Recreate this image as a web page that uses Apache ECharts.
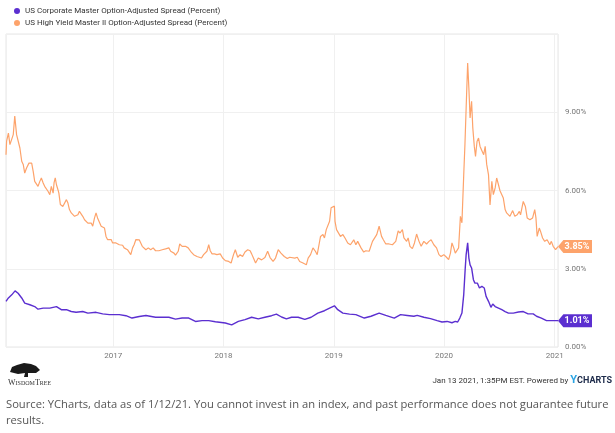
<!DOCTYPE html>
<html style="height: 100%">
<head>
    <meta charset="utf-8">
    <script src="https://cdn.jsdelivr.net/npm/echarts@6/dist/echarts.min.js"></script>
</head>
<body style="height: 100%; margin: 0; background: #fff">
    <div id="main" style="width: 615px; height: 433px"></div>
    <script type="text/javascript">
        var SMALL = "Roboto, sans-serif";

        // US Corporate Master OAS (purple)
        var corpDates = ['2016-01-12', '2016-01-20', '2016-01-31', '2016-02-11', '2016-02-21', '2016-03-04', '2016-03-14', '2016-03-31',
            '2016-04-16', '2016-04-27', '2016-05-14', '2016-06-05', '2016-06-27', '2016-07-13', '2016-07-30', '2016-08-15',
            '2016-08-31', '2016-09-22', '2016-10-09', '2016-11-05', '2016-11-27', '2016-12-19', '2017-01-21', '2017-02-12',
            '2017-03-04', '2017-03-28', '2017-04-19', '2017-05-21', '2017-07-04', '2017-07-26', '2017-08-17', '2017-09-08',
            '2017-09-30', '2017-10-22', '2017-11-13', '2017-12-05', '2018-01-07', '2018-01-28', '2018-02-19', '2018-03-13',
            '2018-04-04', '2018-04-26', '2018-05-18', '2018-06-09', '2018-06-25', '2018-07-12', '2018-07-28', '2018-08-14',
            '2018-09-05', '2018-09-27', '2018-10-18', '2018-11-09', '2018-12-01', '2018-12-18', '2019-01-03', '2019-01-14',
            '2019-01-31', '2019-02-22', '2019-03-15', '2019-04-12', '2019-05-04', '2019-05-31', '2019-06-22', '2019-07-20',
            '2019-08-10', '2019-09-01', '2019-09-23', '2019-10-04', '2019-10-26', '2019-11-17', '2019-12-09', '2019-12-25',
            '2020-01-11', '2020-01-27', '2020-02-07', '2020-02-15', '2020-02-22', '2020-02-29', '2020-03-06', '2020-03-11',
            '2020-03-14', '2020-03-19', '2020-03-23', '2020-03-27', '2020-04-01', '2020-04-07', '2020-04-12', '2020-04-20',
            '2020-04-27', '2020-05-05', '2020-05-13', '2020-05-19', '2020-05-27', '2020-06-04', '2020-06-10', '2020-06-18',
            '2020-06-29', '2020-07-10', '2020-07-21', '2020-08-01', '2020-08-17', '2020-09-03', '2020-09-19', '2020-10-05',
            '2020-10-22', '2020-11-02', '2020-11-18', '2020-12-05', '2020-12-21', '2021-01-12'];
        var corpValues = [1.75, 1.88, 2.00, 2.15, 2.06, 1.88, 1.68, 1.62,
            1.55, 1.45, 1.49, 1.49, 1.55, 1.43, 1.43, 1.36,
            1.33, 1.36, 1.30, 1.33, 1.27, 1.24, 1.24, 1.20,
            1.11, 1.17, 1.21, 1.14, 1.14, 1.07, 1.11, 1.11,
            0.98, 1.01, 1.01, 0.97, 0.92, 0.85, 0.98, 1.05,
            1.14, 1.08, 1.14, 1.20, 1.26, 1.15, 1.08, 1.14,
            1.14, 1.06, 1.14, 1.30, 1.39, 1.49, 1.58, 1.43,
            1.30, 1.26, 1.24, 1.11, 1.18, 1.30, 1.21, 1.11,
            1.24, 1.21, 1.18, 1.21, 1.14, 1.09, 1.01, 0.96,
            0.98, 0.93, 0.98, 0.96, 1.11, 1.30, 2.01, 3.03,
            3.54, 3.99, 3.41, 3.15, 3.03, 2.58, 2.45, 2.45,
            2.26, 2.33, 2.26, 1.94, 1.75, 1.52, 1.65, 1.55,
            1.49, 1.43, 1.36, 1.30, 1.30, 1.34, 1.36, 1.27,
            1.27, 1.18, 1.11, 1.01, 1.01, 1.01];

        // US High Yield Master II OAS (orange)
        var hyDates = ['2016-01-12', '2016-01-14', '2016-01-20', '2016-01-25', '2016-01-31', '2016-02-05', '2016-02-10', '2016-02-16',
            '2016-02-21', '2016-02-27', '2016-03-04', '2016-03-09', '2016-03-14', '2016-03-20', '2016-03-28', '2016-04-06',
            '2016-04-11', '2016-04-16', '2016-04-22', '2016-04-27', '2016-05-03', '2016-05-08', '2016-05-14', '2016-05-19',
            '2016-05-25', '2016-05-30', '2016-06-05', '2016-06-10', '2016-06-16', '2016-06-19', '2016-06-23', '2016-06-27',
            '2016-07-02', '2016-07-05', '2016-07-10', '2016-07-18', '2016-07-24', '2016-07-30', '2016-08-04', '2016-08-09',
            '2016-08-15', '2016-08-20', '2016-08-26', '2016-08-31', '2016-09-06', '2016-09-11', '2016-09-17', '2016-09-22',
            '2016-09-28', '2016-10-03', '2016-10-09', '2016-10-14', '2016-10-20', '2016-10-25', '2016-10-31', '2016-11-05',
            '2016-11-10', '2016-11-16', '2016-11-22', '2016-11-27', '2016-12-03', '2016-12-08', '2016-12-13', '2016-12-19',
            '2016-12-25', '2016-12-30', '2017-01-10', '2017-01-15', '2017-01-21', '2017-01-26', '2017-02-01', '2017-02-06',
            '2017-02-12', '2017-02-17', '2017-02-23', '2017-02-28', '2017-03-06', '2017-03-11', '2017-03-17', '2017-03-22',
            '2017-03-28', '2017-04-02', '2017-04-07', '2017-04-13', '2017-04-19', '2017-04-27', '2017-05-05', '2017-05-13',
            '2017-05-21', '2017-06-01', '2017-06-12', '2017-06-23', '2017-07-04', '2017-07-10', '2017-07-21', '2017-07-26',
            '2017-08-04', '2017-08-09', '2017-08-17', '2017-08-28', '2017-09-06', '2017-09-14', '2017-09-24', '2017-10-05',
            '2017-10-11', '2017-10-20', '2017-10-27', '2017-11-07', '2017-11-13', '2017-11-18', '2017-11-24', '2017-12-02',
            '2017-12-10', '2017-12-21', '2017-12-29', '2018-01-07', '2018-01-18', '2018-01-26', '2018-02-03', '2018-02-09',
            '2018-02-17', '2018-02-25', '2018-03-05', '2018-03-13', '2018-03-22', '2018-03-30', '2018-04-04', '2018-04-10',
            '2018-04-17', '2018-04-26', '2018-05-07', '2018-05-18', '2018-05-27', '2018-06-04', '2018-06-14', '2018-06-22',
            '2018-07-01', '2018-07-10', '2018-07-21', '2018-07-31', '2018-08-08', '2018-08-14', '2018-08-25', '2018-09-02',
            '2018-09-10', '2018-09-21', '2018-10-02', '2018-10-08', '2018-10-16', '2018-10-24', '2018-11-01', '2018-11-07',
            '2018-11-13', '2018-11-18', '2018-11-26', '2018-12-01', '2018-12-07', '2018-12-12', '2018-12-18', '2018-12-23',
            '2018-12-29', '2019-01-03', '2019-01-05', '2019-01-10', '2019-01-14', '2019-01-23', '2019-01-31', '2019-02-07',
            '2019-02-16', '2019-02-25', '2019-03-08', '2019-03-15', '2019-03-21', '2019-04-01', '2019-04-10', '2019-04-17',
            '2019-04-28', '2019-05-09', '2019-05-15', '2019-05-23', '2019-05-31', '2019-06-08', '2019-06-14', '2019-06-22',
            '2019-07-03', '2019-07-14', '2019-07-25', '2019-08-02', '2019-08-08', '2019-08-16', '2019-08-21', '2019-08-30',
            '2019-09-04', '2019-09-10', '2019-09-18', '2019-09-25', '2019-10-02', '2019-10-10', '2019-10-17', '2019-10-26',
            '2019-11-04', '2019-11-12', '2019-11-19', '2019-11-28', '2019-12-07', '2019-12-15', '2019-12-22', '2019-12-31',
            '2020-01-09', '2020-01-16', '2020-01-22', '2020-01-27', '2020-02-02', '2020-02-07', '2020-02-13', '2020-02-18',
            '2020-02-24', '2020-02-29', '2020-03-06', '2020-03-10', '2020-03-14', '2020-03-19', '2020-03-23', '2020-03-27',
            '2020-04-01', '2020-04-05', '2020-04-10', '2020-04-14', '2020-04-19', '2020-04-24', '2020-04-29', '2020-05-05',
            '2020-05-11', '2020-05-16', '2020-05-21', '2020-05-27', '2020-06-01', '2020-06-07', '2020-06-12', '2020-06-18',
            '2020-06-23', '2020-06-29', '2020-07-04', '2020-07-10', '2020-07-15', '2020-07-21', '2020-07-26', '2020-08-01',
            '2020-08-06', '2020-08-15', '2020-08-22', '2020-08-30', '2020-09-06', '2020-09-10', '2020-09-19', '2020-09-26',
            '2020-10-02', '2020-10-11', '2020-10-20', '2020-10-27', '2020-10-31', '2020-11-04', '2020-11-11', '2020-11-15',
            '2020-11-22', '2020-11-29', '2020-12-07', '2020-12-16', '2020-12-21', '2020-12-27', '2021-01-04', '2021-01-12'];
        var hyValues = [7.37, 7.89, 8.20, 7.76, 7.80, 8.14, 8.85, 8.14,
            8.14, 7.63, 7.12, 7.00, 6.67, 6.86, 7.05, 7.05,
            6.73, 6.35, 6.29, 6.16, 6.35, 6.48, 6.29, 6.16,
            6.10, 5.97, 5.84, 6.16, 5.90, 6.29, 6.48, 6.22,
            6.03, 5.90, 5.46, 5.39, 5.46, 5.65, 5.52, 5.27,
            5.14, 5.07, 5.01, 5.01, 5.07, 5.20, 5.14, 5.01,
            4.88, 4.82, 4.75, 4.69, 4.75, 4.63, 4.95, 5.14,
            4.95, 4.88, 4.63, 4.56, 4.56, 4.24, 4.12, 4.05,
            4.12, 3.99, 3.99, 3.99, 3.92, 3.86, 3.90, 3.80,
            3.86, 3.73, 3.73, 3.54, 3.80, 3.92, 4.12, 4.05,
            4.11, 3.99, 3.86, 3.92, 3.73, 3.80, 3.73, 3.80,
            3.69, 3.69, 3.73, 3.76, 3.80, 3.67, 3.60, 3.52,
            3.67, 3.95, 3.86, 3.86, 3.80, 3.67, 3.54, 3.47,
            3.54, 3.41, 3.54, 3.67, 3.92, 3.69, 3.57, 3.57,
            3.54, 3.57, 3.41, 3.31, 3.28, 3.22, 3.54, 3.73,
            3.44, 3.54, 3.47, 3.64, 3.73, 3.69, 3.57, 3.41,
            3.22, 3.41, 3.34, 3.43, 3.67, 3.43, 3.28, 3.41,
            3.73, 3.60, 3.47, 3.39, 3.44, 3.47, 3.41, 3.44,
            3.28, 3.22, 3.15, 3.41, 3.54, 3.80, 3.67, 3.54,
            3.92, 4.24, 4.31, 4.18, 4.50, 4.44, 4.82, 5.34,
            5.34, 5.40, 4.82, 4.50, 4.56, 4.24, 4.31, 4.18,
            3.99, 3.92, 4.11, 3.92, 4.05, 3.80, 3.64, 3.69,
            3.67, 4.05, 4.11, 4.31, 4.63, 4.24, 4.11, 3.95,
            3.95, 3.92, 4.05, 4.45, 4.37, 4.50, 4.18, 4.05,
            4.18, 3.86, 3.77, 3.99, 4.33, 4.05, 3.86, 4.05,
            3.95, 4.05, 4.11, 3.92, 3.80, 3.54, 3.47, 3.54,
            3.44, 3.35, 3.60, 3.99, 3.80, 3.60, 3.54, 3.80,
            5.01, 4.76, 6.60, 7.76, 9.17, 10.89, 9.93, 8.78,
            9.42, 8.40, 7.69, 7.31, 7.88, 8.01, 7.69, 7.76,
            7.37, 7.69, 7.00, 6.60, 5.45, 6.35, 5.84, 6.10,
            6.48, 6.22, 5.99, 6.06, 5.71, 5.27, 5.14, 5.07,
            5.01, 5.23, 5.01, 5.07, 5.20, 5.07, 5.58, 5.39,
            4.95, 4.88, 4.95, 5.27, 4.95, 4.24, 4.56, 4.44,
            4.18, 4.05, 4.11, 3.92, 4.05, 3.86, 3.73, 3.85];

        var corpName = 'US Corporate Master Option-Adjusted Spread (Percent)';
        var hyName = 'US High Yield Master II Option-Adjusted Spread (Percent)';
        var corpColor = '#5b2fd0';
        var hyColor = '#fda36b';

        function pairs(dates, values) {
            return dates.map(function (d, i) { return [d, values[i]]; });
        }

        // tag with a left pointing tip, placed on the last point of a series
        function endTag(dates, values, color) {
            var n = values.length - 1;
            return {
                symbol: 'path://M0,6L6,0H38V12H6Z',
                symbolSize: [34, 13],
                symbolKeepAspect: false,
                symbolOffset: ['50%', 0],
                silent: true,
                itemStyle: { color: color },
                label: {
                    show: true,
                    position: 'inside',
                    offset: [2, 0],
                    color: '#fff',
                    fontSize: 9,
                    fontWeight: 'bold',
                    fontFamily: SMALL,
                    formatter: values[n].toFixed(2) + '%'
                },
                data: [{ coord: [dates[n], values[n]] }]
            };
        }

        var myChart = echarts.init(document.getElementById('main'));

        var option = {
            animation: false,
            backgroundColor: '#fff',
            legend: {
                orient: 'vertical',
                left: 14,
                top: 5,
                padding: 0,
                itemWidth: 6,
                itemHeight: 6,
                itemGap: 0,
                icon: 'circle',
                textStyle: { fontSize: 8, lineHeight: 12, color: '#333', fontFamily: SMALL },
                data: [corpName, hyName]
            },
            grid: {
                left: 6, right: 57, top: 34, bottom: 86,
                show: true, borderColor: '#e6e6e6', borderWidth: 1
            },
            xAxis: {
                type: 'time',
                min: '2016-01-12',
                max: '2021-01-12',
                minInterval: 365 * 24 * 3600 * 1000,
                maxInterval: 366 * 24 * 3600 * 1000,
                axisLine: { show: false },
                axisTick: { show: false },
                splitLine: { show: true, lineStyle: { color: '#f0f0f0' } },
                axisLabel: {
                    color: '#777', fontSize: 8, fontFamily: SMALL, margin: 5,
                    showMinLabel: false,
                    formatter: function (v) {
                        var d = new Date(v);
                        return (d.getMonth() === 0 && d.getDate() === 1) ? String(d.getFullYear()) : '';
                    }
                }
            },
            yAxis: {
                type: 'value',
                position: 'right',
                min: 0, max: 12, interval: 3,
                axisLine: { show: false },
                axisTick: { show: false },
                splitLine: { lineStyle: { color: '#f0f0f0' } },
                axisLabel: {
                    color: '#777', fontSize: 8, fontFamily: SMALL, margin: 7,
                    padding: [0, 0, 7, 0],
                    formatter: function (v) { return v >= 12 ? '' : v.toFixed(2) + '%'; }
                }
            },
            series: [{
                name: corpName,
                type: 'line',
                showSymbol: false,
                color: corpColor,
                lineStyle: { width: 1.4, color: corpColor },
                data: pairs(corpDates, corpValues),
                markPoint: endTag(corpDates, corpValues, corpColor),
                z: 3
            }, {
                name: hyName,
                type: 'line',
                showSymbol: false,
                color: hyColor,
                lineStyle: { width: 1.2, color: hyColor },
                data: pairs(hyDates, hyValues),
                markPoint: endTag(hyDates, hyValues, hyColor),
                z: 2
            }],
            graphic: [
                // WisdomTree logo (rough tree shape)
                {
                    type: 'polygon',
                    shape: { points: [[10, 372], [12, 367], [17, 365], [24, 363], [31, 364], [36, 366], [40, 370], [36, 373], [30, 373], [28, 373], [28, 377], [24, 377], [25, 373], [18, 374]] },
                    style: { fill: '#1a1a1a' }
                },
                {
                    type: 'text', left: 8, top: 379,
                    style: {
                        text: '{b|W}{s|ISDOM}{b|T}{s|REE}',
                        rich: {
                            b: { fontSize: 8, fontFamily: 'Liberation Serif', fill: '#333' },
                            s: { fontSize: 6, fontFamily: 'Liberation Serif', fill: '#333' }
                        }
                    }
                },
                {
                    type: 'text', right: 3, top: 375,
                    style: {
                        text: '{t|Jan 13 2021, 1:35PM EST. Powered by }{y|Y}{c|CHARTS}',
                        rich: {
                            t: { fontSize: 8, fontFamily: SMALL, fill: '#333' },
                            y: { fontSize: 11, fontFamily: 'Roboto', fontWeight: 'bold', fill: '#2aa4e4' },
                            c: { fontSize: 9, fontFamily: 'Roboto', fontWeight: 'bold', fill: '#1d2b4a' }
                        }
                    }
                },
                {
                    type: 'text', left: 6, top: 397,
                    style: {
                        text: 'Source: YCharts, data as of 1/12/21. You cannot invest in an index, and past performance does not guarantee future\nresults.',
                        fontSize: 11.2, lineHeight: 16, fontFamily: "'Open Sans', sans-serif", fill: '#555'
                    }
                }
            ]
        };

        myChart.setOption(option);
    </script>
</body>
</html>
